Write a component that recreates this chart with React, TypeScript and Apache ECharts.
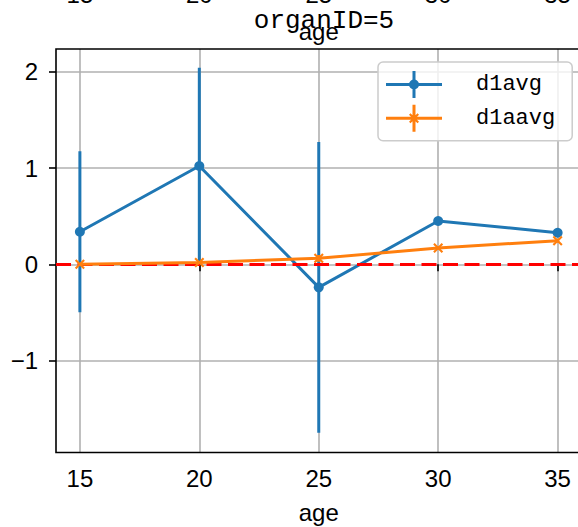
import React, { useEffect, useRef } from "react";
import * as echarts from "echarts";

const ages = [15, 20, 25, 30, 35];
const d1avg = [0.338, 1.021, -0.239, 0.45, 0.328];
const d1avgErr: (number | null)[] = [0.835, 1.02, 1.51, null, null];
const d1aavg = [0.0, 0.02, 0.062, 0.17, 0.245];
const d1aavgErr: (number | null)[] = [0.005, 0.01, 0.035, 0.015, 0.02];
const xTicks = [15, 20, 25, 30, 35];
const yTicks = [-1, 0, 1, 2];
const seriesNames = ["d1avg", "d1aavg"];
const titleText = "organID=5";
const xName = "age";
const refValue = 0;

const BLUE = "#1f77b4";
const ORANGE = "#ff7f0e";
const TICK_FONT = "Liberation Sans";
const MONO = "Liberation Mono";

const X_SYMBOL =
  "path://M1.5,0 L5,3.5 L8.5,0 L10,1.5 L6.5,5 L10,8.5 L8.5,10 L5,6.5 L1.5,10 L0,8.5 L3.5,5 L0,1.5 Z";
const BLUE_ICON =
  "path://M0,12 L56,12 L56,15 L0,15 Z M26.5,0 L29.5,0 L29.5,27 L26.5,27 Z M33,13.5 A5,5 0 1 1 23,13.5 A5,5 0 1 1 33,13.5 Z";
const ORANGE_ICON =
  "path://M0,12 L56,12 L56,15 L0,15 Z M26.5,0 L29.5,0 L29.5,27 L26.5,27 Z M24.5,8.5 L28,12 L31.5,8.5 L33,10 L29.5,13.5 L33,17 L31.5,18.5 L28,15 L24.5,18.5 L23,17 L26.5,13.5 L23,10 Z";

const fmtNum = (v: number) => String(v).replace("-", "\u2212");

function errSeries(name: string, vals: number[], errs: (number | null)[], color: string, z: number) {
  const data = ages
    .map((x, i) => (errs[i] == null ? null : [x, vals[i] - (errs[i] as number), vals[i] + (errs[i] as number)]))
    .filter((d) => d !== null);
  return {
    type: "custom",
    name,
    z,
    silent: true,
    clip: true,
    itemStyle: { color },
    encode: { x: 0, y: [1, 2] },
    data,
    renderItem: (_params: any, api: any) => {
      const p1 = api.coord([api.value(0), api.value(1)]);
      const p2 = api.coord([api.value(0), api.value(2)]);
      return {
        type: "line",
        shape: { x1: p1[0], y1: p1[1], x2: p2[0], y2: p2[1] },
        style: { stroke: color, lineWidth: 3 },
      };
    },
  };
}

export default function App() {
  const ref = useRef<HTMLDivElement>(null);
  useEffect(() => {
    if (!ref.current) return;
    const chart = echarts.init(ref.current, undefined, { renderer: "svg" });
    const labelStyle = { fontFamily: TICK_FONT, fontSize: 24, color: "#000" };
    const option: any = {
      animation: false,
      backgroundColor: "#fff",
      title: {
        text: titleText,
        left: 319,
        top: 3,
        textAlign: "center",
        textStyle: { fontFamily: MONO, fontSize: 26, fontWeight: "normal", color: "#000" },
      },
      legend: {
        orient: "vertical",
        left: 378,
        top: 62,
        padding: [9, 17, 9, 8],
        itemWidth: 56,
        itemHeight: 27,
        itemGap: 6.7,
        backgroundColor: "rgba(255,255,255,0.8)",
        borderColor: "#cccccc",
        borderWidth: 1.5,
        borderRadius: 5,
        itemStyle: { borderWidth: 0 },
        textStyle: { fontFamily: MONO, fontSize: 22, color: "#000", padding: [0, 0, 0, 29] },
        data: [
          { name: seriesNames[0], icon: BLUE_ICON },
          { name: seriesNames[1], icon: ORANGE_ICON },
        ],
        selectedMode: false,
      },
      grid: [
        {
          left: 56,
          top: 49,
          width: 525.5,
          height: 403.5,
          show: true,
          borderColor: "#000",
          borderWidth: 1.6,
          backgroundColor: "transparent",
          outerBoundsMode: "none",
          containLabel: false,
          z: 3,
        },
        {
          left: 56,
          top: -200,
          width: 525.5,
          height: 168,
          show: false,
          outerBoundsMode: "none",
          containLabel: false,
        },
      ],
      xAxis: [
        {
          type: "value",
          gridIndex: 0,
          min: 14,
          max: 36,
          name: xName,
          nameLocation: "middle",
          nameGap: 48,
          nameTextStyle: labelStyle,
          axisLine: { show: false },
          axisTick: { show: true, customValues: xTicks, length: 7, lineStyle: { color: "#000", width: 1.6 } },
          axisLabel: { customValues: xTicks, margin: 14, ...labelStyle, formatter: fmtNum },
          splitLine: { show: true, lineStyle: { color: "#b0b0b0", width: 1.6 } },
        },
        {
          type: "value",
          gridIndex: 1,
          min: 14,
          max: 36,
          name: xName,
          nameLocation: "middle",
          nameGap: 51,
          nameTextStyle: labelStyle,
          axisLine: { show: false },
          axisTick: { show: false },
          axisLabel: { customValues: xTicks, margin: 14, ...labelStyle, formatter: fmtNum },
          splitLine: { show: false },
        },
      ],
      yAxis: [
        {
          type: "value",
          gridIndex: 0,
          min: -1.954,
          max: 2.236,
          axisLine: { show: false },
          axisTick: { show: true, customValues: yTicks, length: 7, lineStyle: { color: "#000", width: 1.6 } },
          axisLabel: { customValues: yTicks, margin: 18, ...labelStyle, formatter: fmtNum },
          splitLine: { show: true, lineStyle: { color: "#b0b0b0", width: 1.6 } },
        },
        { type: "value", gridIndex: 1, min: 0, max: 1, show: false },
      ],
      series: [
        errSeries(seriesNames[0], d1avg, d1avgErr, BLUE, 2),
        errSeries(seriesNames[1], d1aavg, d1aavgErr, ORANGE, 4),
        {
          type: "line",
          name: seriesNames[0],
          z: 3,
          data: ages.map((x, i) => [x, d1avg[i]]),
          symbol: "circle",
          symbolSize: 10,
          showAllSymbol: true,
          lineStyle: { color: BLUE, width: 3 },
          itemStyle: { color: BLUE },
          silent: true,
        },
        {
          type: "line",
          name: seriesNames[1],
          z: 5,
          data: ages.map((x, i) => [x, d1aavg[i]]),
          symbol: X_SYMBOL,
          symbolSize: 10,
          showAllSymbol: true,
          lineStyle: { color: ORANGE, width: 3 },
          itemStyle: { color: ORANGE },
          silent: true,
        },
        {
          type: "line",
          name: "ref",
          z: 6,
          data: [],
          silent: true,
          markLine: {
            silent: true,
            symbol: "none",
            label: { show: false },
            lineStyle: { color: "#ff0000", width: 3, type: [15, 6.5] },
            data: [{ yAxis: refValue }],
          },
        },
      ],
    };
    chart.setOption(option);
    return () => chart.dispose();
  }, []);
  return (
    <div
      style={{
        position: "absolute",
        left: 0,
        top: 0,
        width: 578,
        height: 527,
        overflow: "hidden",
        background: "#fff",
      }}
    >
      <div ref={ref} style={{ width: 600, height: 527 }} />
    </div>
  );
}
